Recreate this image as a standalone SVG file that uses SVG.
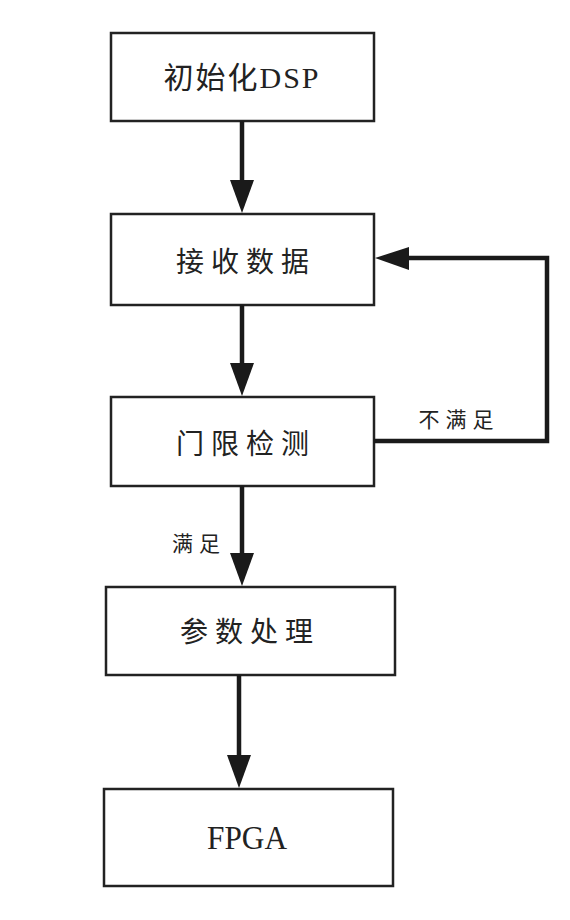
<svg xmlns="http://www.w3.org/2000/svg" width="570" height="920" viewBox="0 0 570 920">
<style>
.box{fill:#fff;stroke:#222;stroke-width:2.5}
.lbl{font-family:"Liberation Serif","Noto Sans CJK SC",serif;fill:#222;text-anchor:middle;dominant-baseline:central}
.cn{font-family:"Noto Sans CJK SC",sans-serif;font-weight:400;fill:#222;text-anchor:middle;dominant-baseline:central}
.conn{fill:none;stroke:#1a1a1a;stroke-width:4.5}
.head{fill:#1a1a1a}
</style>
<rect width="570" height="920" fill="#fff"/>
<g id="n1"><rect class="box" x="111" y="33" width="263" height="88"/><text class="lbl" x="242" y="77" font-size="30" letter-spacing="2">初始化DSP</text></g>
<g id="n2"><rect class="box" x="111" y="214" width="263" height="91"/><text class="cn" x="246" y="260" font-size="28" letter-spacing="7">接收数据</text></g>
<g id="n3"><rect class="box" x="111" y="397" width="263" height="89"/><text class="cn" x="246" y="442" font-size="28" letter-spacing="7">门限检测</text></g>
<g id="n4"><rect class="box" x="106" y="587" width="289" height="88"/><text class="cn" x="250" y="630" font-size="28" letter-spacing="7">参数处理</text></g>
<g id="n5"><rect class="box" x="104" y="789" width="289" height="97"/><text class="lbl" x="247" y="838" font-size="33" textLength="80" lengthAdjust="spacingAndGlyphs">FPGA</text></g>
<g id="connectors">
<line class="conn" x1="242" y1="121" x2="242" y2="185"/>
<polygon class="head" points="230,180 254,180 242,213"/>
<line class="conn" x1="242" y1="305" x2="242" y2="368"/>
<polygon class="head" points="230,363 254,363 242,396"/>
<polyline class="conn" points="374,441 547,441 547,258 405,258"/>
<polygon class="head" points="409,247 409,270 375,258"/>
<line class="conn" x1="242" y1="486" x2="242" y2="558"/>
<polygon class="head" points="230,553 254,553 242,586"/>
<line class="conn" x1="239" y1="675" x2="239" y2="760"/>
<polygon class="head" points="227,755 251,755 239,788"/>
<text class="cn" x="459" y="418" font-size="21" letter-spacing="6">不满足</text>
<text class="cn" x="199" y="542" font-size="21" letter-spacing="6">满足</text>
</g>
</svg>
